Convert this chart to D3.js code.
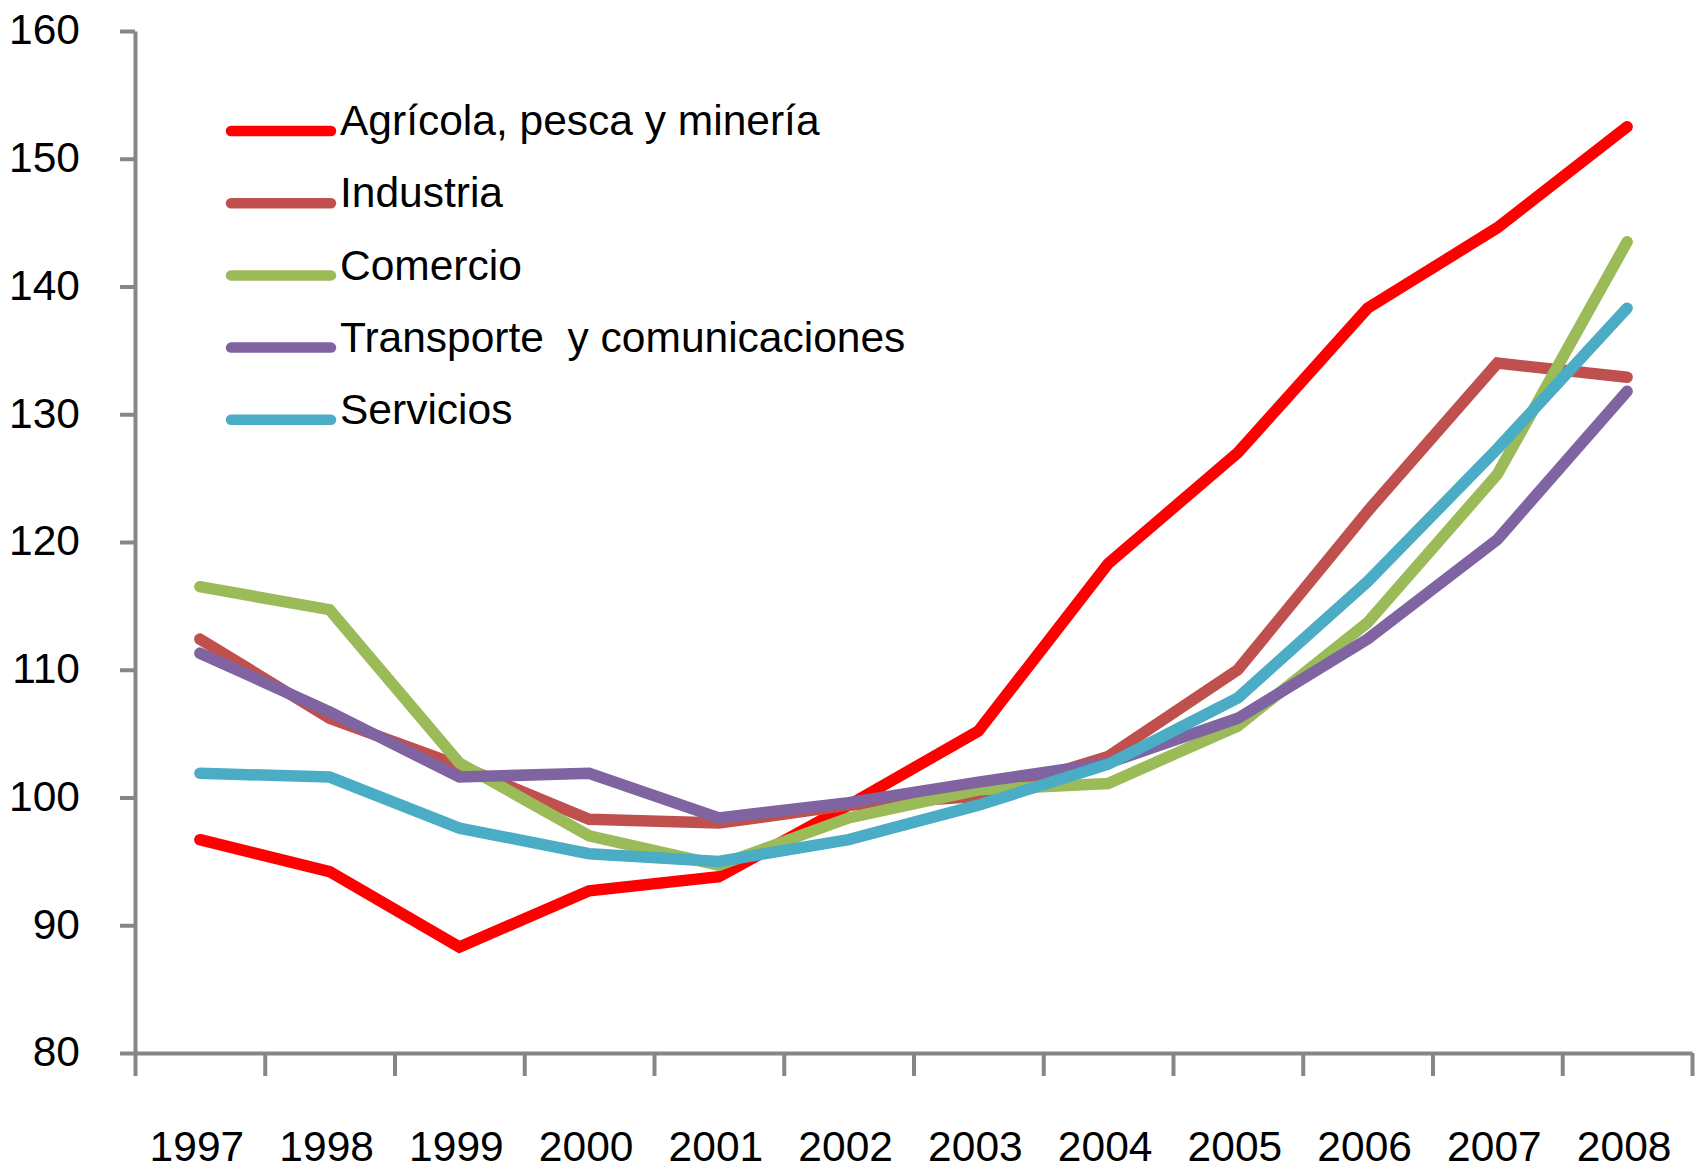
<!DOCTYPE html>
<html>
<head>
<meta charset="utf-8">
<script src="https://cdn.jsdelivr.net/npm/d3@7"></script>
<style>
  body { margin: 0; background: #fff; }
  text { font-family: "Liberation Sans", Arial, sans-serif; fill: #000; }
</style>
</head>
<body>
<div id="chart-area"></div>
<script>
// chart data
var years = ["1997","1998","1999","2000","2001","2002","2003","2004","2005","2006","2007","2008"];
var seriesNames = ["Agrícola, pesca y minería", "Industria", "Comercio", "Transporte  y comunicaciones", "Servicios"];
var agricola   = [96.7, 94.2, 88.3, 92.7, 93.8, 99.4, 105.2, 118.3, 127.0, 138.3, 144.6, 152.5];
var industria  = [112.4, 106.2, 102.5, 98.3, 98.0, 99.4, 100.1, 103.2, 110.0, 122.4, 134.0, 132.9];
var comercio   = [116.5, 114.7, 102.7, 97.0, 94.7, 98.4, 100.6, 101.1, 105.6, 113.7, 125.3, 143.5];
var transporte = [111.3, 106.7, 101.6, 101.9, 98.4, 99.6, 101.2, 102.7, 106.2, 112.4, 120.2, 131.8];
var servicios  = [101.9, 101.6, 97.6, 95.6, 95.0, 96.7, 99.4, 102.6, 107.8, 116.9, 127.3, 138.3];
var yTicks = [80, 90, 100, 110, 120, 130, 140, 150, 160];
var colors = ["#ff0000", "#c0504d", "#9bbb59", "#8064a2", "#4bacc6"];

var allSeries = [agricola, industria, comercio, transporte, servicios];

var chartWidth = 1700, chartHeight = 1174;
var plotLeft = 135, plotRight = 1692, plotTop = 31, plotBottom = 1053;
var fontSize = "42.5px";

var svg = d3.select("#chart-area").append("svg").attr("width", chartWidth).attr("height", chartHeight);

var x = d3.scaleBand().domain(years).range([plotLeft, plotRight]);
var xEdges = d3.scaleLinear().domain([0, years.length]).range([plotLeft, plotRight]);
var y = d3.scaleLinear().domain([80, 160]).range([plotBottom, plotTop]);

// y axis
var yAxis = d3.axisLeft(y).tickValues(yTicks).tickSize(15).tickSizeOuter(0).tickPadding(40);
var yAxisGroup = svg.append("g").attr("transform", "translate(" + plotLeft + ",0)").call(yAxis);
yAxisGroup.selectAll("text").attr("font-size", fontSize).attr("dy", "0.3em")
	.attr("font-family", "Liberation Sans, Arial, sans-serif");

// x axis: tick marks at category boundaries, labels at centres
var xTickAxis = d3.axisBottom(xEdges).tickValues(d3.range(years.length + 1)).tickSize(23).tickSizeOuter(0).tickFormat("");
svg.append("g").attr("transform", "translate(0," + plotBottom + ")").call(xTickAxis);

var xLabelAxis = d3.axisBottom(x).tickSize(0).tickPadding(78);
var xLabelGroup = svg.append("g").attr("transform", "translate(-3," + plotBottom + ")").call(xLabelAxis);
xLabelGroup.select(".domain").remove();
xLabelGroup.selectAll("text").attr("font-size", fontSize).attr("font-family", "Liberation Sans, Arial, sans-serif");

svg.selectAll(".domain, .tick line").attr("stroke", "#868686").attr("stroke-width", 4);

// lines
var line = d3.line()
	.x((d, i) => { return x(years[i]) + x.bandwidth() / 2; })
	.y((d) => { return y(d); });

svg.append("g").selectAll("path").data(allSeries).enter().append("path")
	.attr("d", (d) => { return line(d); })
	.attr("fill", "none")
	.attr("stroke", (d, i) => { return colors[i]; })
	.attr("stroke-width", 11.5)
	.attr("stroke-linecap", "round")
	.attr("stroke-linejoin", "miter");

// legend
var legend = svg.append("g").attr("transform", "translate(231,131)");
seriesNames.forEach((name, i) => {
	var row = legend.append("g").attr("transform", "translate(0," + (i * 72.2) + ")");
	row.append("line").attr("x1", 0).attr("x2", 100).attr("y1", 0).attr("y2", 0)
		.attr("stroke", colors[i]).attr("stroke-width", 10.5).attr("stroke-linecap", "round");
	row.append("text").attr("x", 109).attr("y", 0).attr("dy", "0.1em")
		.attr("font-size", fontSize).style("white-space", "pre").text(name);
});
</script>
</body>
</html>
